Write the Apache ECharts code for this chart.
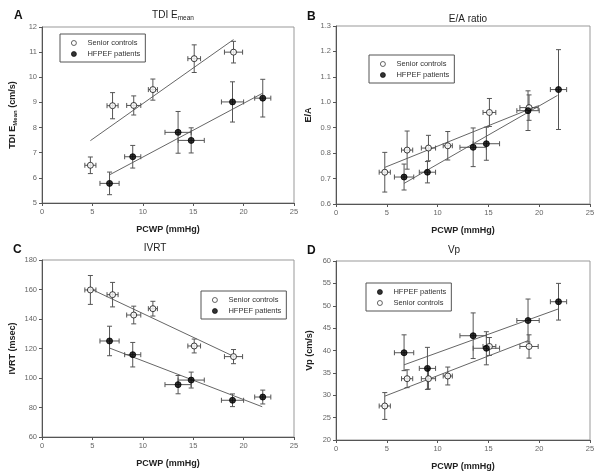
<!DOCTYPE html>
<html>
<head>
<meta charset="utf-8">
<script src="https://cdn.jsdelivr.net/npm/echarts@6/dist/echarts.min.js"></script>
<style>
  html, body { margin: 0; padding: 0; background: #fff; }
  #chart { width: 600px; height: 475px; }
</style>
</head>
<body>
<div id="chart"></div>
<script>
// PCWP (x) for both groups, same in every panel
const pcwpCtrl = [4.8, 7.0, 9.1, 11.0, 15.1, 19.0];
const pcwpCtrlErr = [0.55, 0.55, 0.7, 0.45, 0.63, 0.9];
const pcwpHf = [6.7, 9.0, 13.5, 14.8, 18.9, 21.9];
const pcwpHfErr = [0.95, 0.8, 1.3, 1.3, 1.1, 0.8];

// A: TDI E mean
const tdiCtrl = [6.5, 8.87, 8.88, 9.51, 10.74, 11.0];
const tdiCtrlErr = [0.33, 0.52, 0.38, 0.42, 0.55, 0.43];
const tdiHf = [5.78, 6.84, 7.81, 7.49, 9.02, 9.17];
const tdiHfErr = [0.45, 0.45, 0.83, 0.5, 0.8, 0.75];
const tdiFitCtrl = [[4.8, 7.48], [19.0, 11.5]];
const tdiFitHf = [[6.7, 6.12], [21.9, 9.37]];

// B: E/A ratio
const eaCtrl = [0.725, 0.812, 0.82, 0.829, 0.96, 0.979];
const eaCtrlErr = [0.078, 0.075, 0.05, 0.056, 0.055, 0.05];
const eaHf = [0.706, 0.725, 0.823, 0.837, 0.967, 1.05];
const eaHfErr = [0.051, 0.042, 0.076, 0.065, 0.078, 0.157];
const eaFitCtrl = [[4.8, 0.744], [19.8, 0.985]];
const eaFitHf = [[6.7, 0.681], [21.8, 1.027]];

// C: IVRT
const ivrtCtrl = [159.7, 156.5, 142.7, 147.0, 121.7, 114.5];
const ivrtCtrlErr = [9.8, 8.3, 6.0, 5.0, 4.7, 4.8];
const ivrtHf = [125.1, 115.8, 95.5, 98.6, 84.9, 87.1];
const ivrtHfErr = [10.0, 8.3, 6.2, 5.4, 4.3, 4.7];
const ivrtFitCtrl = [[4.8, 160.5], [19.1, 114.4]];
const ivrtFitHf = [[6.7, 120.3], [21.85, 80.5]];

// D: Vp
const vpCtrl = [27.6, 33.7, 33.7, 34.3, 40.9, 40.9];
const vpCtrlErr = [3.0, 2.0, 2.3, 2.0, 2.0, 2.6];
const vpHf = [39.5, 36.0, 43.3, 40.5, 46.7, 50.9];
const vpHfErr = [4.0, 4.7, 5.1, 3.7, 4.8, 4.1];
const vpFitCtrl = [[4.8, 29.8], [18.9, 42.2]];
const vpFitHf = [[6.7, 36.8], [21.9, 49.3]];

const CTRL = 'Senior controls';
const HF = 'HFPEF patients';
const FONT = '"Liberation Sans", Arial, sans-serif';

const chart = echarts.init(document.getElementById('chart'));

// panel layout: grid boxes in px
const panels = [
  { left: 42, top: 27, width: 252, height: 176, min: 5, max: 12, interval: 1, fmt: v => v,
    yCtrl: tdiCtrl, yCtrlErr: tdiCtrlErr, yHf: tdiHf, yHfErr: tdiHfErr, fitCtrl: tdiFitCtrl, fitHf: tdiFitHf,
    yName: '{b|TDI E}{s|Mean}{b| (cm/s)}', nameGap: 24 },
  { left: 336, top: 26, width: 254, height: 178, min: 0.6, max: 1.3, interval: 0.1, fmt: v => v.toFixed(1),
    yCtrl: eaCtrl, yCtrlErr: eaCtrlErr, yHf: eaHf, yHfErr: eaHfErr, fitCtrl: eaFitCtrl, fitHf: eaFitHf,
    yName: '{b|E/A}', nameGap: 23 },
  { left: 42, top: 260, width: 252, height: 177, min: 60, max: 180, interval: 20, fmt: v => v,
    yCtrl: ivrtCtrl, yCtrlErr: ivrtCtrlErr, yHf: ivrtHf, yHfErr: ivrtHfErr, fitCtrl: ivrtFitCtrl, fitHf: ivrtFitHf,
    yName: '{b|IVRT (msec)}', nameGap: 25 },
  { left: 336, top: 261, width: 254, height: 179, min: 20, max: 60, interval: 5, fmt: v => v,
    yCtrl: vpCtrl, yCtrlErr: vpCtrlErr, yHf: vpHf, yHfErr: vpHfErr, fitCtrl: vpFitCtrl, fitHf: vpFitHf,
    yName: '{b|Vp (cm/s)}', nameGap: 22 }
];

// error bars (x and y) drawn from axis coordinates
function errorBars(params, api) {
  const x = api.value(0), y = api.value(1), ex = api.value(2), ey = api.value(3);
  const c = 2.5;
  const l = api.coord([x - ex, y]), r = api.coord([x + ex, y]);
  const t = api.coord([x, y + ey]), b = api.coord([x, y - ey]);
  const style = { stroke: '#555', lineWidth: 1 };
  const ln = (x1, y1, x2, y2) => ({ type: 'line', shape: { x1, y1, x2, y2 }, style });
  return {
    type: 'group',
    children: [
      ln(l[0], l[1], r[0], r[1]),
      ln(l[0], l[1] - c, l[0], l[1] + c),
      ln(r[0], r[1] - c, r[0], r[1] + c),
      ln(t[0], t[1], b[0], b[1]),
      ln(t[0] - c, t[1], t[0] + c, t[1]),
      ln(b[0] - c, b[1], b[0] + c, b[1])
    ]
  };
}

const grids = [], xAxes = [], yAxes = [], series = [];
panels.forEach((p, i) => {
  grids.push({ left: p.left, top: p.top, width: p.width, height: p.height,
    show: true, borderColor: '#999', borderWidth: 1, backgroundColor: 'transparent' });
  xAxes.push({
    gridIndex: i, type: 'value', min: 0, max: 25, interval: 5,
    name: 'PCWP (mmHg)', nameLocation: 'middle', nameGap: 22,
    nameTextStyle: { fontFamily: FONT, fontWeight: 'bold', fontSize: 9, color: '#222' },
    axisLine: { lineStyle: { color: '#555' } },
    axisTick: { length: 3, lineStyle: { color: '#555' } },
    axisLabel: { fontFamily: FONT, fontSize: 7.5, color: '#666', margin: 5 },
    splitLine: { show: false }
  });
  yAxes.push({
    gridIndex: i, type: 'value', min: p.min, max: p.max, interval: p.interval,
    name: p.yName, nameLocation: 'middle', nameRotate: 90, nameGap: p.nameGap,
    nameTextStyle: { rich: {
      b: { fontFamily: FONT, fontWeight: 'bold', fontSize: 9, color: '#222' },
      s: { fontFamily: FONT, fontWeight: 'bold', fontSize: 6, color: '#222', padding: [5, 0, 0, 0] }
    } },
    axisLine: { lineStyle: { color: '#555' } },
    axisTick: { length: 3, lineStyle: { color: '#555' } },
    axisLabel: { fontFamily: FONT, fontSize: 7.5, color: '#666', margin: 5, formatter: p.fmt },
    splitLine: { show: false }
  });
  const groups = [
    { name: CTRL, xs: pcwpCtrl, xe: pcwpCtrlErr, ys: p.yCtrl, ye: p.yCtrlErr, fit: p.fitCtrl,
      item: { color: '#fff', borderColor: '#111', borderWidth: 1 } },
    { name: HF, xs: pcwpHf, xe: pcwpHfErr, ys: p.yHf, ye: p.yHfErr, fit: p.fitHf,
      item: { color: '#000', borderColor: '#000', borderWidth: 1 } }
  ];
  groups.forEach(g => {
    series.push({
      type: 'line', xAxisIndex: i, yAxisIndex: i, data: g.fit, symbol: 'none', silent: true,
      lineStyle: { color: '#666', width: 1 }, z: 2, legendHoverLink: false, tooltip: { show: false }
    });
    series.push({
      type: 'custom', xAxisIndex: i, yAxisIndex: i, renderItem: errorBars, silent: true, z: 3,
      encode: { x: 0, y: 1 },
      data: g.xs.map((x, k) => [x, g.ys[k], g.xe[k], g.ye[k]])
    });
    series.push({
      name: g.name, type: 'scatter', xAxisIndex: i, yAxisIndex: i, z: 4,
      symbol: 'circle', symbolSize: 6, itemStyle: g.item,
      data: g.xs.map((x, k) => [x, g.ys[k]])
    });
  });
});

const legendBase = {
  orient: 'vertical', borderColor: '#555', borderWidth: 1, padding: [5, 5, 4, 11],
  itemGap: 3, itemWidth: 5, itemHeight: 5, icon: 'circle', selectedMode: false,
  itemStyle: { borderWidth: 0.8 },
  textStyle: { fontFamily: FONT, fontSize: 7.5, color: '#333', padding: [0, 0, 0, 6] }
};

const titleStyle = { fontFamily: FONT, fontWeight: 'normal', fontSize: 10, color: '#222' };
const letterStyle = { fontFamily: FONT, fontWeight: 'bold', fontSize: 12, color: '#111' };

const option = {
  animation: false,
  backgroundColor: '#fff',
  title: [
    { text: 'A', left: 9, top: 5, textStyle: letterStyle },
    { text: 'B', left: 302, top: 6, textStyle: letterStyle },
    { text: 'C', left: 8, top: 239, textStyle: letterStyle },
    { text: 'D', left: 302, top: 240, textStyle: letterStyle },
    { text: '{t|TDI E}{s|mean}', left: 168, top: 4, textAlign: 'center',
      textStyle: { rich: { t: titleStyle, s: Object.assign({}, titleStyle, { fontSize: 6.5, padding: [6, 0, 0, 0] }) } } },
    { text: 'E/A ratio', left: 463, top: 9, textAlign: 'center', textStyle: titleStyle },
    { text: 'IVRT', left: 150, top: 238, textAlign: 'center', textStyle: titleStyle },
    { text: 'Vp', left: 449, top: 240, textAlign: 'center', textStyle: titleStyle }
  ],
  grid: grids,
  xAxis: xAxes,
  yAxis: yAxes,
  legend: [
    Object.assign({}, legendBase, { data: [CTRL, HF], left: 60, top: 34 }),
    Object.assign({}, legendBase, { data: [CTRL, HF], left: 369, top: 55 }),
    Object.assign({}, legendBase, { data: [CTRL, HF], left: 201, top: 291 }),
    Object.assign({}, legendBase, { data: [HF, CTRL], left: 366, top: 283 })
  ],
  series: series
};

chart.setOption(option);
</script>
</body>
</html>
